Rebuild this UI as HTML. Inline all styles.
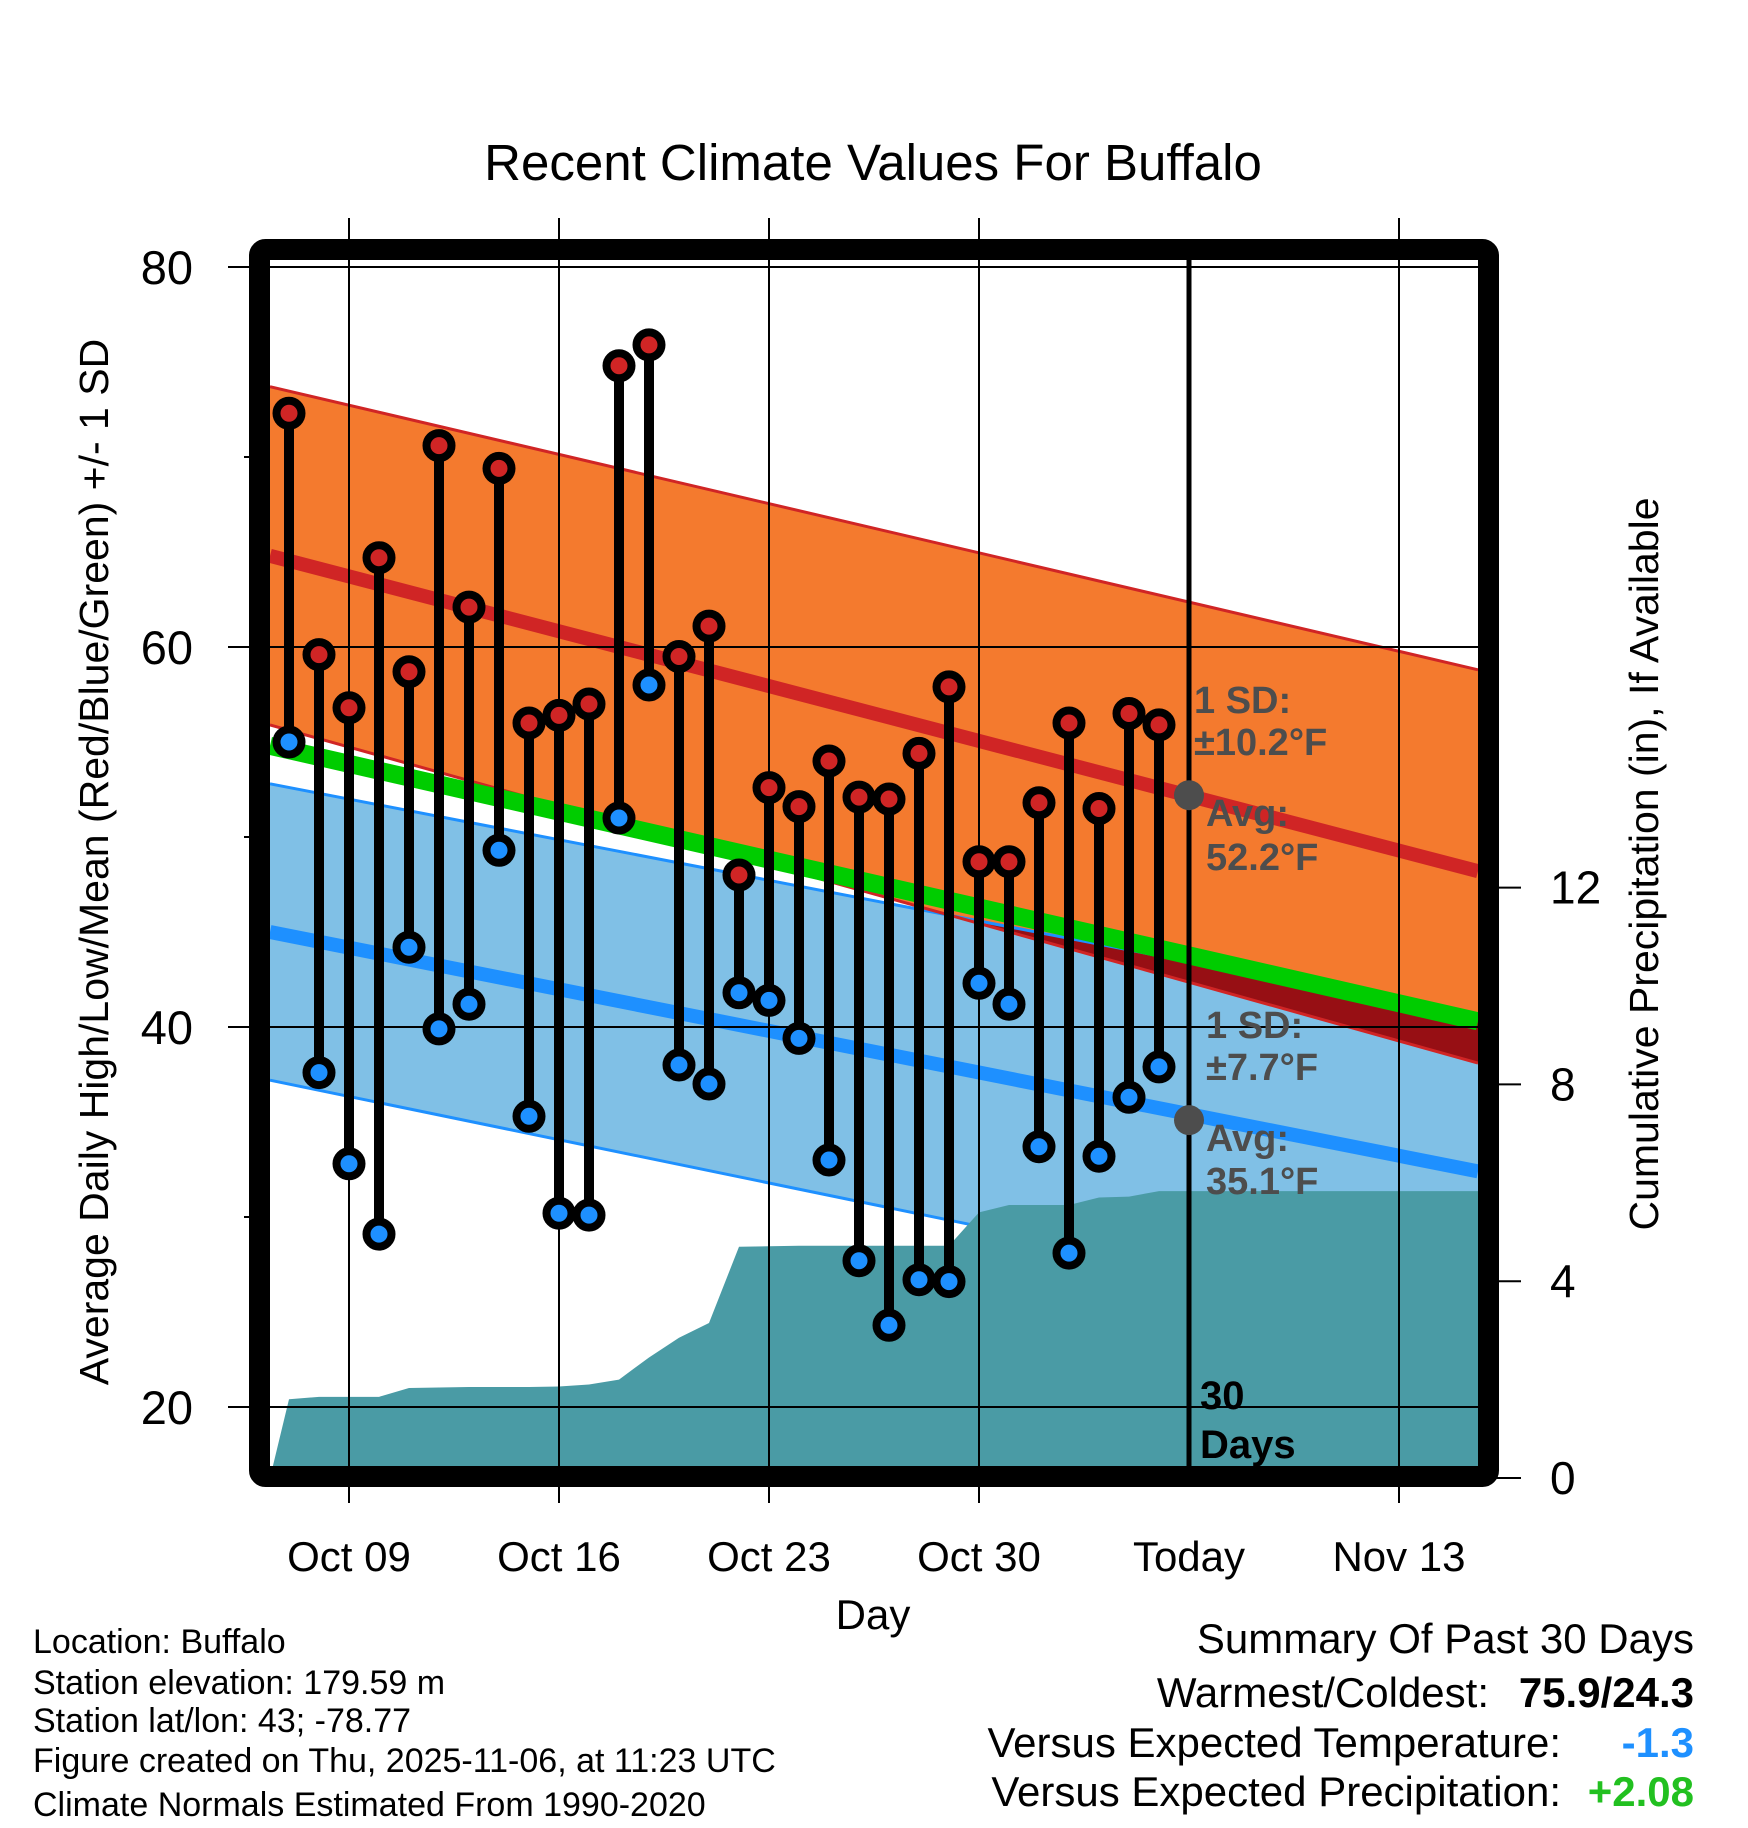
<!DOCTYPE html>
<html><head><meta charset="utf-8">
<style>
html,body{margin:0;padding:0;background:#fff;}
svg{display:block;font-family:"Liberation Sans",Arial,sans-serif;}
</style></head>
<body>
<svg id="chart" width="1748" height="1828" viewBox="0 0 1748 1828" xmlns="http://www.w3.org/2000/svg">
<text x="873" y="180" font-size="51" text-anchor="middle">Recent Climate Values For Buffalo</text>
<g id="plot"></g>
<text transform="translate(108,862) rotate(-90)" font-size="41" text-anchor="middle">Average Daily High/Low/Mean (Red/Blue/Green) +/- 1 SD</text>
<text transform="translate(1658,864) rotate(-90)" font-size="41" text-anchor="middle">Cumulative Precipitation (in), If Available</text>
<text x="873" y="1629" font-size="42" text-anchor="middle">Day</text>
<g font-size="34">
<text x="33" y="1653">Location: Buffalo</text>
<text x="33" y="1694">Station elevation: 179.59 m</text>
<text x="33" y="1732">Station lat/lon: 43; -78.77</text>
<text x="33" y="1772">Figure created on Thu, 2025-11-06, at 11:23 UTC</text>
<text x="33" y="1816">Climate Normals Estimated From 1990-2020</text>
</g>
<g font-size="42">
<text x="1694" y="1653" text-anchor="end">Summary Of Past 30 Days</text>
<text x="1489" y="1707" text-anchor="end">Warmest/Coldest:</text>
<text x="1694" y="1707" text-anchor="end" font-weight="bold">75.9/24.3</text>
<text x="1561" y="1757" text-anchor="end">Versus Expected Temperature:</text>
<text x="1694" y="1757" text-anchor="end" font-weight="bold" fill="#1e90ff">-1.3</text>
<text x="1561" y="1806" text-anchor="end">Versus Expected Precipitation:</text>
<text x="1694" y="1806" text-anchor="end" font-weight="bold" fill="#22c020">+2.08</text>
</g>
</svg>
<script>
// data (day offset 0 = Oct 7)
const highs = [72.3,59.6,56.8,64.7,58.7,70.6,62.1,69.4,56.0,56.4,57.0,74.8,75.9,59.5,61.1,48.0,52.6,51.6,54.0,52.1,52.0,54.4,57.9,48.7,48.7,51.8,56.0,51.5,56.5,55.9];
const lows = [55.0,37.6,32.8,29.1,44.2,39.9,41.2,49.3,35.3,30.2,30.1,51.0,58.0,38.0,37.0,41.8,41.4,39.4,33.0,27.7,24.3,26.7,26.6,42.3,41.2,33.7,28.1,33.2,36.3,37.9];
const precip = [1.6,1.65,1.65,1.65,1.83,1.84,1.85,1.85,1.85,1.86,1.9,2.0,2.45,2.85,3.15,4.7,4.71,4.72,4.72,4.72,4.72,4.72,4.72,5.4,5.55,5.55,5.55,5.7,5.72,5.83];
// normals at left edge / right edge of plot
const highTopNorm = [73.7,58.8];
const highMeanNorm = [64.8,48.2];
const highBotNorm = [55.9,38.1];
const meanNorm = [54.8,40.3];
const lowTopNorm = [52.8,40.5];
const lowMeanNorm = [45.0,32.4];
const lowBotNorm = [37.2,24.1];
const yTicks = [80,60,40,20];
const yMinor = [70,50,30];
const y2Ticks = [0,4,8,12];
const xTickDays = [2,9,16,23,37];
const xTickLabels = ['Oct 09','Oct 16','Oct 23','Oct 30','Nov 13'];
const todayDay = 30;
const todayHighAvg = 52.2, todayLowAvg = 35.1;

const NS='http://www.w3.org/2000/svg';
const L=270,R=1478,T=260,B=1468;
const x = d => 289 + d*30;
const y = v => 267 + (80-v)*19;
const yp = p => 1478 - p*49.2;
const g=document.getElementById('plot');
function mk(tag,attrs,parent){const e=document.createElementNS(NS,tag);for(const k in attrs)e.setAttribute(k,attrs[k]);(parent||g).appendChild(e);return e;}
function band(top,bot){return `${L},${y(top[0])} ${R},${y(top[1])} ${R},${y(bot[1])} ${L},${y(bot[0])}`;}
function lerp(a,t){return a[0]+(a[1]-a[0])*t;}

let e;
e=mk('polygon',{points:band(lowTopNorm,lowBotNorm),fill:'#80c0e6'});


e=mk('polygon',{points:band(highTopNorm,highBotNorm),fill:'#f47a2e'});


{
 const d0=lowTopNorm[0]-highBotNorm[0], d1=lowTopNorm[1]-highBotNorm[1];
 const t=d0/(d0-d1);
 if(t>0&&t<1){
  const xc=L+(R-L)*t, vc=lerp(highBotNorm,t);
  e=mk('polygon',{points:`${xc},${y(vc)} ${R},${y(lowTopNorm[1])} ${R},${y(highBotNorm[1])}`,fill:'#970f14'});
  
  
 }
}
function ln(a,col,w,name){const e=mk('line',{x1:L,y1:y(a[0]),x2:R,y2:y(a[1]),stroke:col,'stroke-width':w});}
ln(lowTopNorm,'#1e90ff',3,'low-sd-upper-line');
ln(lowBotNorm,'#1e90ff',3,'low-sd-lower-line');
ln(highTopNorm,'#d02525',3,'high-sd-upper-line');
ln(highBotNorm,'#d02525',3,'high-sd-lower-line');
{
 let pts=`${L},${yp(0)} `;
 precip.forEach((p,i)=>{pts+=`${x(i)},${yp(p)} `;});
 pts+=`${R},${yp(precip[precip.length-1])} ${R},${yp(0)}`;
 e=mk('polygon',{points:pts,fill:'#4a9ba5'});
 
 
}
ln(meanNorm,'#00cc00',18,'mean-normal-line');
ln(highMeanNorm,'#d02525',14,'high-normal-line');
ln(lowMeanNorm,'#1e90ff',14,'low-normal-line');
yTicks.forEach(v=>{e=mk('line',{x1:228,y1:y(v),x2:R,y2:y(v),stroke:'#000','stroke-width':2});
 e=mk('text',{x:193,y:y(v)+17,'font-size':47,'text-anchor':'end'});e.textContent=v;});
yMinor.forEach(v=>{e=mk('line',{x1:244,y1:y(v),x2:L,y2:y(v),stroke:'#000','stroke-width':2});});
y2Ticks.forEach(p=>{e=mk('line',{x1:R,y1:yp(p),x2:1521,y2:yp(p),stroke:'#000','stroke-width':2});
 e=mk('text',{x:1550,y:yp(p)+16,'font-size':46});e.textContent=p;});
xTickDays.forEach((d,i)=>{e=mk('line',{x1:x(d),y1:218,x2:x(d),y2:1503,stroke:'#000','stroke-width':2});
 e=mk('text',{x:x(d),y:1571,'font-size':42,'text-anchor':'middle'});e.textContent=xTickLabels[i];});
e=mk('text',{x:x(todayDay),y:1571,'font-size':42,'text-anchor':'middle'});e.textContent='Today';


e=mk('line',{x1:x(todayDay),y1:260,x2:x(todayDay),y2:B,stroke:'#000','stroke-width':5});


highs.forEach((h,i)=>{
 e=mk('line',{x1:x(i),y1:y(h),x2:x(i),y2:y(lows[i]),stroke:'#000','stroke-width':10});
 
 
});
highs.forEach((h,i)=>{
 e=mk('circle',{cx:x(i),cy:y(h),r:12.5,fill:'#d02525',stroke:'#000','stroke-width':8});
 
 
 e=mk('circle',{cx:x(i),cy:y(lows[i]),r:12.5,fill:'#1e90ff',stroke:'#000','stroke-width':8});
 
 
});
e=mk('circle',{cx:x(todayDay),cy:y(todayHighAvg),r:15,fill:'#4d4d4d'});


e=mk('circle',{cx:x(todayDay),cy:y(todayLowAvg),r:15,fill:'#4d4d4d'});


function ann(tx,xx,yy,name,col,fs){const t=mk('text',{x:xx,y:yy,'font-size':fs||38,'font-weight':'bold',fill:col||'#4d4d4d'});t.textContent=tx;}
ann('1 SD:',1194,713,'high-sd-label');
ann('±10.2°F',1194,755,'high-sd-value');
ann('Avg:',1206,826,'high-avg-label');
ann('52.2°F',1206,870,'high-avg-value');
ann('1 SD:',1206,1038,'low-sd-label');
ann('±7.7°F',1206,1080,'low-sd-value');
ann('Avg:',1206,1151,'low-avg-label');
ann('35.1°F',1206,1194,'low-avg-value');
ann('30',1200,1409,'days-count-label','#000',40);
ann('Days',1200,1458,'days-label','#000',40);
e=mk('rect',{x:259.5,y:249.5,width:1229,height:1227,fill:'none',stroke:'#000','stroke-width':21,rx:6});


</script>
</body></html>
